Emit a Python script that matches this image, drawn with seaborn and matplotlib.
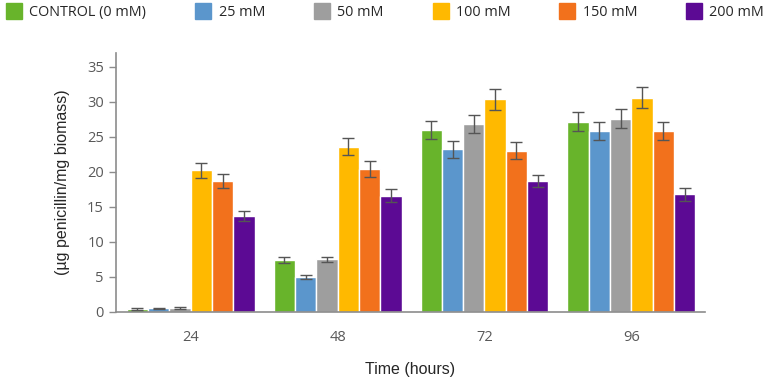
import numpy as np
import pandas as pd
import matplotlib
matplotlib.use("Agg")
import matplotlib.pyplot as plt
import seaborn as sns

# data
times = ["24", "48", "72", "96"]
groups = ["CONTROL (0 mM)", "25 mM", "50 mM", "100 mM", "150 mM", "200 mM"]
control = [0.4, 7.4, 26.0, 27.2]
mm25 = [0.5, 5.0, 23.2, 25.9]
mm50 = [0.6, 7.5, 26.8, 27.6]
mm100 = [20.2, 23.6, 30.4, 30.6]
mm150 = [18.7, 20.4, 23.0, 25.9]
mm200 = [13.7, 16.6, 18.7, 16.8]
err_control = [0.1, 0.4, 1.3, 1.4]
err_25 = [0.1, 0.3, 1.2, 1.3]
err_50 = [0.15, 0.4, 1.3, 1.4]
err_100 = [1.1, 1.2, 1.5, 1.5]
err_150 = [1.0, 1.1, 1.2, 1.3]
err_200 = [0.7, 0.9, 0.9, 0.9]

colors = ["#68b42b", "#5b96cc", "#9e9e9e", "#ffb900", "#f2711c", "#5c0a94"]

vals = [control, mm25, mm50, mm100, mm150, mm200]
errs = [err_control, err_25, err_50, err_100, err_150, err_200]

rows = []
for g, v, e in zip(groups, vals, errs):
    for t, y, ee in zip(times, v, e):
        rows.append({"time": t, "group": g, "value": y, "err": ee})
df = pd.DataFrame(rows)

sns.set_style("white")
plt.rcParams["font.family"] = ["Open Sans", "DejaVu Sans"]

fig = plt.figure(figsize=(7.72, 3.78), dpi=100)
ax = fig.add_axes([0.150, 0.175, 0.763, 0.685])

sns.barplot(data=df, x="time", y="value", hue="group", order=times,
            hue_order=groups, palette=colors, saturation=1, width=0.87,
            errorbar=None, edgecolor="white", linewidth=1.0, legend=False, ax=ax)

# error bars at the bar centres
for i, g in enumerate(groups):
    cont = ax.containers[i]
    xs = [p.get_x() + p.get_width() / 2 for p in cont.patches]
    hs = [p.get_height() for p in cont.patches]
    ax.errorbar(xs, hs, yerr=errs[i], fmt="none", ecolor="#555555",
                elinewidth=1.0, capsize=4, capthick=1.0, zorder=5)

ax.set_ylim(0, 37)
ax.set_xlim(-0.51, 3.5)
ax.set_yticks(range(0, 36, 5))
for s in ["top", "right"]:
    ax.spines[s].set_visible(False)
for s in ["left", "bottom"]:
    ax.spines[s].set_color("#8c8c8c")
    ax.spines[s].set_linewidth(1.2)
ax.tick_params(axis="y", length=5, width=1, color="#8c8c8c", labelsize=10.5,
               labelcolor="#595959", direction="out", left=True)
ax.tick_params(axis="x", length=0, labelsize=10.5, labelcolor="#595959", pad=13)
ax.set_xlabel("Time (hours)", fontsize=11.5, family=["Liberation Sans"], labelpad=12)
ax.set_ylabel("(\u00b5g penicillin/mg biomass)", fontsize=11.5,
              family=["Liberation Sans"], labelpad=12)

handles = [plt.Line2D([], [], marker="s", linestyle="none", markersize=11,
                      markerfacecolor=c, markeredgecolor=c) for c in colors]
fig.legend(handles, groups, loc="upper left", bbox_to_anchor=(-0.003, 1.01),
           ncol=6, frameon=False, fontsize=10.4, handletextpad=0.5,
           columnspacing=3.4, handlelength=1.1, borderaxespad=0.2)

fig.savefig("out.png", dpi=100)
